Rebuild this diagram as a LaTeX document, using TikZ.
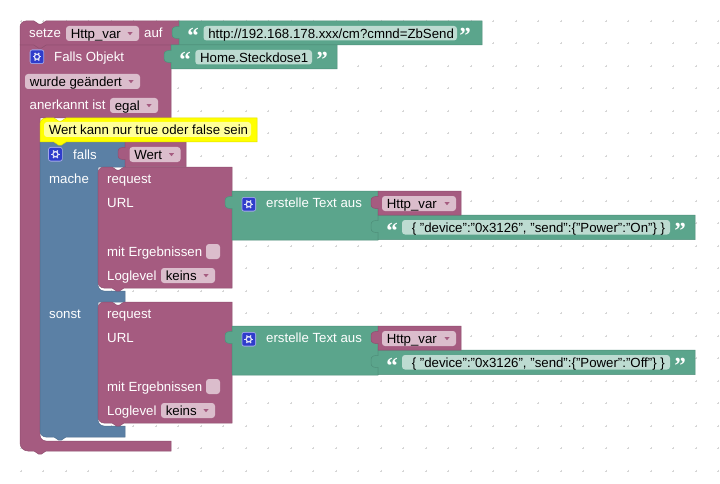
\documentclass[tikz,border=0pt]{standalone}
\usepackage{fontspec}
\setmainfont{Liberation Sans}
\newfontfamily\quotefont{Liberation Serif}
\definecolor{pur}{HTML}{A55B80}
\definecolor{purd}{HTML}{8F4F6F}
\definecolor{purf}{HTML}{DBBDCC}
\definecolor{gre}{HTML}{5BA58C}
\definecolor{gred}{HTML}{4F8F7A}
\definecolor{gref}{HTML}{BDDBD1}
\definecolor{blu}{HTML}{5B80A5}
\definecolor{blud}{HTML}{4F6F8F}
\definecolor{yel}{HTML}{FFFF00}
\definecolor{yeld}{HTML}{DDDD00}
\definecolor{yelf}{HTML}{FFFF99}
\definecolor{icon}{HTML}{2F3CCB}
\newcounter{lblc}
\tikzset{
 x=1pt,y=-1pt,
 pblock/.style={fill=pur,draw=purd,line width=.5pt},
 gblock/.style={fill=gre,draw=gred,line width=.5pt},
 bblock/.style={fill=blu,draw=blud,line width=.5pt},
 yblock/.style={fill=yel,draw=yeld,line width=.5pt},
 lbl/.style={anchor=base west,inner sep=0pt,text=white,font=\fontsize{13.25}{15}\selectfont},
 ftxt/.style={anchor=base west,inner sep=0pt,text=black,font=\fontsize{13.25}{15}\selectfont},
 qmark/.style={anchor=base,inner sep=0pt,text=white,font=\quotefont\bfseries\fontsize{23}{23}\selectfont},
}
% notches: left-to-right and right-to-left for a block whose left edge is #1
\def\nr#1#2{-- ({#1+14},#2) -- ({#1+18.8},{#2+3.2}) -- ({#1+21.2},{#2+3.2}) -- ({#1+26},#2)}
\def\nl#1#2{-- ({#1+26},#2) -- ({#1+21.2},{#2+3.2}) -- ({#1+18.8},{#2+3.2}) -- ({#1+14},#2)}
% output tab on a left edge at #1, block top #2, going upward
\def\tabup#1#2{-- (#1,{#2+17.5}) .. controls ({#1-1},{#2+18}) and ({#1-2.5},{#2+17.5}) .. ({#1-4.5},{#2+17}) .. controls ({#1-6.5},{#2+16.5}) and ({#1-7},{#2+15}) .. ({#1-7},{#2+13}) -- ({#1-7},{#2+10}) .. controls ({#1-7},{#2+8}) and ({#1-6.5},{#2+6.5}) .. ({#1-4.5},{#2+6}) .. controls ({#1-2.5},{#2+5.5}) and ({#1-1},{#2+5}) .. (#1,{#2+5.5})}
\newcommand{\lb}[3]{\stepcounter{lblc}\node[lbl] (l\thelblc) at (#1,#2) {#3};}
\newcommand{\fieldbox}[5]{\fill[#5,rounded corners=3pt] (#1,#2) rectangle (#3,#4);}
\newcommand{\fld}[6]{% x1,y1,x2,y2,text,fill
 \fieldbox{#1}{#2}{#3}{#4}{#6}\stepcounter{lblc}\node[ftxt] (l\thelblc) at ({#1+4.6},{#2+12.3}) {#5};}
\newcommand{\dropf}[5]{% x1,y1,x2,y2,text
 \fld{#1}{#2}{#3}{#4}{#5}{purf}\fill[pur] ({#3-11.5},{#2+6.2}) -- ({#3-6.5},{#2+6.2}) -- ({#3-9},{#2+9.2}) -- cycle;}
\newcommand{\gear}[2]{% left, top of the 14.5 px icon
 \fill[white!55!icon,rounded corners=2.5pt] (#1,#2) rectangle ({#1+14.5},{#2+14.5});
 \fill[icon,rounded corners=2pt] ({#1+.8},{#2+.8}) rectangle ({#1+13.7},{#2+13.7});
 \draw[white!85!icon,line width=1.2pt] ({#1+7.25},{#2+7.25}) circle (2.6);
 \foreach \a in {0,60,...,300}{\draw[white!85!icon,line width=1.3pt] ({#1+7.25+2.6*cos(\a)},{#2+7.25+2.6*sin(\a)}) -- ({#1+7.25+4.4*cos(\a)},{#2+7.25+4.4*sin(\a)});}}
\newcommand{\qo}[2]{\stepcounter{lblc}\node[qmark] (l\thelblc) at (#1,#2) {“};}
\newcommand{\qc}[2]{\stepcounter{lblc}\node[qmark] (l\thelblc) at (#1,#2) {”};}
% a request block with the text block attached; #1 = y offset, #2 = JSON string, #3 = right of field
\newcommand{\request}[3]{
 \draw[pblock] (98,{173+#1}) .. controls (98,{169.7+#1}) and (100.7,{167+#1}) .. (104,{167+#1}) \nr{98}{167+#1} -- (232,{167+#1}) -- (232,{288+#1}) \nl{98}{288+#1} -- (104,{288+#1}) .. controls (100.7,{288+#1}) and (98,{285.3+#1}) .. (98,{282+#1}) -- cycle;
 \lb{107}{183+#1}{request}
 \lb{107}{207+#1}{URL}
 \lb{107}{256+#1}{mit Ergebnissen}
 \fieldbox{206}{244+#1}{220}{259+#1}{purf}
 \lb{107}{280+#1}{Loglevel}
 \dropf{161}{268+#1}{215}{283+#1}{keins}
 \draw[gblock] (232,{240+#1}) \tabup{232}{191+#1} -- (232,{191+#1}) -- (378,{191+#1}) -- (378,{240+#1}) -- cycle;
 \gear{241.5}{197+#1}
 \lb{266}{207+#1}{erstelle Text aus}
 \draw[gblock] (378,{239.5+#1}) \tabup{378}{215+#1} -- (378,{215+#1}) -- (695,{215+#1}) -- (695,{239.5+#1}) -- cycle;
 \qo{392}{238+#1}
 \fld{402}{220+#1}{#3}{234.5+#1}{\hspace*{5pt}#2}{gref}
 \qc{680}{238+#1}
 \draw[pblock] (378,{215+#1}) \tabup{378}{191+#1} -- (378,{191+#1}) -- (461,{191+#1}) -- (461,{215+#1}) -- cycle;
 \dropf{382}{196+#1}{456}{211+#1}{Http\_var}
}
\begin{document}
\begin{tikzpicture}
\useasboundingbox (0,0) rectangle (720,484);
\fill[white] (0,0) rectangle (720,484);
% workspace grid
\foreach \i in {0,...,32}{\foreach \j in {0,...,21}{
 \pgfmathsetmacro\px{-1.7+22.5*\i}\pgfmathsetmacro\py{-1.7+22.5*\j}
 \draw[black!16,line width=.5pt] ({\px-1},\py) -- ({\px+1},\py) ({\px},{\py-1}) -- ({\px},{\py+1});
}}
% outer "Falls Objekt" block
\draw[pblock] (20,45) \nr{20}{45} -- (171,45) -- (171,118) -- (40,118) -- (40,435) .. controls (40,438.3) and (42.7,441) .. (46,441) -- (171,441) -- (171,451) \nl{20}{451} -- (28,451) .. controls (23.6,451) and (20,447.4) .. (20,443) -- cycle;
% setze
\draw[pblock] (20,27) .. controls (20,23.7) and (22.7,21) .. (26,21) \nr{20}{21} -- (179,21) -- (179,45) \nl{20}{45} -- (20,45) -- cycle;
\lb{29}{37.5}{setze}
\dropf{66}{26}{139}{41}{Http\_var}
\lb{144}{37.5}{auf}
\draw[gblock] (179,45) \tabup{179}{21} -- (179,21) -- (482,21) -- (482,45) -- cycle;
\qo{193}{44}
\fld{203.5}{26}{457}{40.5}{http://192.168.178.xxx/cm?cmnd=ZbSend}{gref}
\qc{465}{44}
% Falls Objekt rows
\gear{29.7}{49.5}
\lb{54}{61.5}{Falls Objekt}
\draw[gblock] (171,69) \tabup{171}{45} -- (171,45) -- (337,45) -- (337,69) -- cycle;
\qo{185}{68}
\fld{195.3}{50}{312}{64.5}{Home.Steckdose1}{gref}
\qc{322}{68}
\dropf{25}{74}{140}{89}{wurde geändert}
\lb{29.5}{109.5}{anerkannt ist}
\dropf{110}{98}{158}{113}{egal}
% falls block
\draw[bblock] (40,142) -- (125,142) -- (125,167) -- (98,167) -- (98,285) .. controls (98,288.3) and (100.7,291) .. (104,291) -- (125,291) -- (125,302) -- (98,302) -- (98,420) .. controls (98,423.3) and (100.7,426) .. (104,426) -- (125,426) -- (125,437) \nl{40}{437} -- (46,437) .. controls (42.7,437) and (40,434.3) .. (40,431) -- cycle;
\gear{48.2}{147}
\lb{73}{159}{falls}
\lb{49}{183}{mache}
\lb{49}{318}{sonst}
\draw[pblock] (125,166.5) \tabup{125}{142} -- (125,142) -- (186,142) -- (186,166.5) -- cycle;
\dropf{129.5}{147}{180.5}{162}{Wert}
% comment
\draw[yblock] (40,124) .. controls (40,120.7) and (42.7,118) .. (46,118) \nr{40}{118} -- (257,118) -- (257,142) \nl{40}{142} -- (40,142) -- cycle;
\fld{44}{122}{251}{137}{Wert kann nur true oder false sein}{yelf}
% requests
\request{0}{\{ "device":"0x3126", "send":\{"Power":"On"\} \}}{670}
\request{135}{\{ "device":"0x3126", "send":\{"Power":"Off"\} \}}{670}
\end{tikzpicture}
\end{document}
